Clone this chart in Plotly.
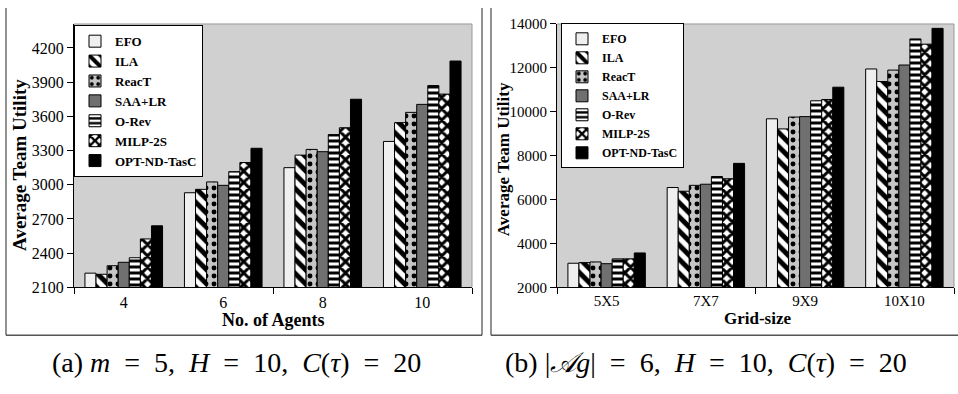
import plotly.graph_objects as go

W, H = 958, 394

# ---- data -------------------------------------------------------------
methods = ["EFO", "ILA", "ReacT", "SAA+LR", "O-Rev", "MILP-2S", "OPT-ND-TasC"]

agents = ["4", "6", "8", "10"]
agents_util = {
    "EFO":         [2225, 2930, 3150, 3380],
    "ILA":         [2215, 2960, 3260, 3545],
    "ReacT":       [2290, 3025, 3310, 3635],
    "SAA+LR":      [2320, 2995, 3290, 3705],
    "O-Rev":       [2360, 3115, 3440, 3870],
    "MILP-2S":     [2525, 3195, 3500, 3795],
    "OPT-ND-TasC": [2640, 3320, 3750, 4085],
}

grids = ["5X5", "7X7", "9X9", "10X10"]
grid_util = {
    "EFO":         [3100, 6550, 9680, 11950],
    "ILA":         [3130, 6380, 9220, 11380],
    "ReacT":       [3160, 6650, 9760, 11900],
    "SAA+LR":      [3080, 6700, 9780, 12130],
    "O-Rev":       [3300, 7050, 10500, 13320],
    "MILP-2S":     [3300, 6950, 10560, 13080],
    "OPT-ND-TasC": [3570, 7650, 11120, 13800],
}

# ---- styling ----------------------------------------------------------
SERIF = "Liberation Serif, Times New Roman, serif"
styles = {
    "EFO":         dict(color="#efefef"),
    "ILA":         dict(color="white", pattern=dict(shape="\\", fgcolor="black", bgcolor="white",
                                                     size=10, solidity=0.5, fillmode="replace")),
    "ReacT":       dict(color="#c6c6c6", pattern=dict(shape=".", fgcolor="black", bgcolor="#c6c6c6",
                                                       size=8, solidity=0.3, fillmode="replace")),
    "SAA+LR":      dict(color="#707070"),
    "O-Rev":       dict(color="white", pattern=dict(shape="-", fgcolor="black", bgcolor="white",
                                                     size=6, solidity=0.5, fillmode="replace")),
    "MILP-2S":     dict(color="white", pattern=dict(shape="x", fgcolor="black", bgcolor="white",
                                                     size=8, solidity=0.6, fillmode="replace")),
    "OPT-ND-TasC": dict(color="black"),
}


def px(x):
    return x / W


def py(y):
    return 1 - y / H


def bar_marker(name):
    st = styles[name]
    marker = dict(color=st["color"], line=dict(color="black", width=1))
    if "pattern" in st:
        marker["pattern"] = st["pattern"]
    return marker


fig = go.Figure()

for name in methods:
    fig.add_trace(go.Bar(
        x=list(range(len(agents))), y=agents_util[name], name=f"<b>{name}</b>",
        marker=bar_marker(name), xaxis="x", yaxis="y", legend="legend",
    ))
for name in methods:
    fig.add_trace(go.Bar(
        x=list(range(len(grids))), y=grid_util[name], name=f"<b>{name}</b>",
        marker=bar_marker(name), xaxis="x2", yaxis="y2", legend="legend2",
    ))

xcommon = dict(
    range=[-0.5, 3.5], showline=True, linecolor="black", linewidth=1,
    ticks="", showgrid=False, zeroline=False,
    minor=dict(tickvals=[-0.5, 1.5, 3.5], ticks="outside", ticklen=6,
               tickcolor="black", tickwidth=1, showgrid=False),
)
ycommon = dict(
    showline=True, linecolor="black", linewidth=1, ticks="outside", ticklen=6,
    tickcolor="black", showgrid=False, zeroline=False, tickformat="d",
)

fig.update_layout(
    width=W, height=H, margin=dict(l=0, r=0, t=0, b=0),
    paper_bgcolor="white", plot_bgcolor="#d0d0d0",
    barmode="group", bargap=0.22, bargroupgap=0,
    xaxis=dict(xcommon, domain=[px(74), px(472)], anchor="y",
               tickvals=list(range(len(agents))), ticktext=agents,
               tickfont=dict(family=SERIF, size=16, color="black")),
    yaxis=dict(ycommon, domain=[py(292), py(16.7)], anchor="x",
               range=[2100, 4410], tick0=2100, dtick=300,
               tickfont=dict(family=SERIF, size=16, color="black")),
    xaxis2=dict(xcommon, domain=[px(557), px(954)], anchor="y2",
                tickvals=list(range(len(grids))), ticktext=grids,
                tickfont=dict(family=SERIF, size=15, color="black")),
    yaxis2=dict(ycommon, domain=[py(292), py(16.7)], anchor="x2",
                range=[2000, 14000], tick0=2000, dtick=2000,
                tickfont=dict(family=SERIF, size=15, color="black")),
    legend=dict(x=px(74), y=py(18), xanchor="left", yanchor="top",
                bgcolor="white", bordercolor="black", borderwidth=1,
                font=dict(family=SERIF, size=13, color="black"),
                tracegroupgap=0, itemwidth=30),
    legend2=dict(x=px(561), y=py(16), xanchor="left", yanchor="top",
                 bgcolor="white", bordercolor="black", borderwidth=1,
                 font=dict(family=SERIF, size=12, color="black"),
                 tracegroupgap=0, itemwidth=30),
    showlegend=True,
)

# panel frames and the thin grey plot-area outline
frame = dict(color="#555555", width=1.3)
outline = dict(color="#9a9a9a", width=1)
shapes = [
    dict(type="line", xref="paper", yref="paper", x0=px(6), x1=px(6), y0=py(0), y1=py(342), line=frame),
    dict(type="line", xref="paper", yref="paper", x0=px(482), x1=px(482), y0=py(0), y1=py(342), line=frame),
    dict(type="line", xref="paper", yref="paper", x0=px(6), x1=px(482), y0=py(342), y1=py(342), line=frame),
    dict(type="line", xref="paper", yref="paper", x0=px(491), x1=px(491), y0=py(0), y1=py(342), line=frame),
    dict(type="line", xref="paper", yref="paper", x0=px(491), x1=px(958), y0=py(342), y1=py(342), line=frame),
    dict(type="line", xref="x domain", yref="y domain", x0=0, x1=1, y0=1, y1=1, line=outline),
    dict(type="line", xref="x domain", yref="y domain", x0=1, x1=1, y0=0, y1=1, line=outline),
    dict(type="line", xref="x2 domain", yref="y2 domain", x0=0, x1=1, y0=1, y1=1, line=outline),
    dict(type="line", xref="x2 domain", yref="y2 domain", x0=1, x1=1, y0=0, y1=1, line=outline),
]
fig.update_layout(shapes=shapes)

# axis titles and sub-captions
EQ = "&nbsp;&nbsp;=&nbsp;&nbsp;"
CM = ",&nbsp;&nbsp;"
cap_a = f"(a) <i>m</i>{EQ}5{CM}<i>H</i>{EQ}10{CM}<i>C</i>(<i>τ</i>){EQ}20"
cap_b = f"(b) |<i>𝒜g</i>|{EQ}6{CM}<i>H</i>{EQ}10{CM}<i>C</i>(<i>τ</i>){EQ}20"
ann = [
    dict(text="<b>Average Team Utility</b>", x=px(20), y=py(164), textangle=-90,
         font=dict(family=SERIF, size=19, color="black")),
    dict(text="<b>No. of Agents</b>", x=px(273), y=py(326),
         font=dict(family=SERIF, size=18, color="black")),
    dict(text="<b>Average Team Utility</b>", x=px(503), y=py(158), textangle=-90,
         font=dict(family=SERIF, size=17, color="black")),
    dict(text="<b>Grid-size</b>", x=px(757), y=py(325),
         font=dict(family=SERIF, size=17, color="black")),
    dict(text=cap_a, x=px(236), y=py(370), font=dict(family=SERIF, size=28, color="black")),
    dict(text=cap_b, x=px(706), y=py(370), font=dict(family=SERIF, size=28, color="black")),
]
for a in ann:
    a.update(xref="paper", yref="paper", showarrow=False, xanchor="center", yanchor="middle")
fig.update_layout(annotations=ann)

fig.write_html("out.html")
